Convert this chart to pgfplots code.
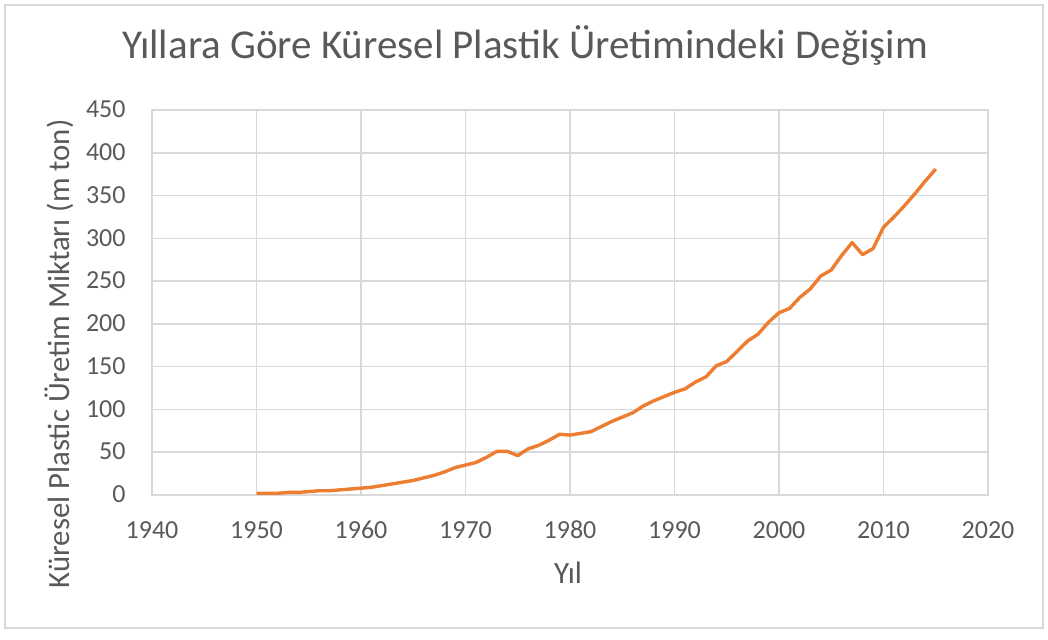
\documentclass[border=0pt]{standalone}
\usepackage{fontspec}
\setmainfont{Carlito}
\usepackage{pgfplots}
\pgfplotsset{compat=1.18}
\definecolor{txt}{HTML}{595959}
\definecolor{grd}{HTML}{D9D9D9}
\definecolor{org}{HTML}{ED7D31}
\begin{document}
\begin{tikzpicture}[x=1pt,y=1pt]
\path[use as bounding box] (0,0) rectangle (524,320);
\draw[grd, line width=0.8pt] (2.5,6) rectangle (521.5,317.5);
\node[txt, anchor=base, font=\fontsize{20.5}{24}\selectfont] at (262.5,290.5) {Yıllara Göre Küresel Plastik Üretimindeki Değişim};
\node[txt, rotate=90, anchor=base, font=\fontsize{15.4}{18}\selectfont] at (35,143) {Küresel Plastic Üretim Miktarı (m ton)};
\node[txt, anchor=base, font=\fontsize{15.5}{18}\selectfont] at (284,28) {Yıl};
\begin{axis}[
  at={(76pt,72.5pt)}, anchor=south west,
  scale only axis, width=418pt, height=192.5pt,
  xmin=1940, xmax=2020, ymin=0, ymax=450,
  xtick={1940,1950,...,2020}, ytick={0,50,...,450},
  grid=major, major grid style={grd, line width=0.75pt},
  axis line style={grd, line width=0.75pt},
  tick style={draw=none},
  /pgf/number format/assume math mode=true,
  /pgf/number format/1000 sep={},
  ticklabel style={txt, font=\fontsize{13}{15}\selectfont, inner sep=0pt},
  xticklabel style={anchor=base, yshift=-22pt},
  yticklabel style={anchor=mid east, xshift=-13pt, yshift=-1.5pt},
  clip=false,
]
\addplot[org, line width=1.7pt, line join=round] coordinates {
(1950,2)(1951,2)(1952,2)(1953,3)(1954,3)(1955,4)(1956,5)(1957,5)(1958,6)(1959,7)
(1960,8)(1961,9)(1962,11)(1963,13)(1964,15)(1965,17)(1966,20)(1967,23)(1968,27)(1969,32)
(1970,35)(1971,38)(1972,44)(1973,51)(1974,51)(1975,46)(1976,54)(1977,58)(1978,64)(1979,71)
(1980,70)(1981,72)(1982,74)(1983,80)(1984,86)(1985,91)(1986,96)(1987,104)(1988,110)(1989,115)
(1990,120)(1991,124)(1992,132)(1993,138)(1994,151)(1995,156)(1996,168)(1997,180)(1998,188)(1999,202)
(2000,213)(2001,218)(2002,231)(2003,241)(2004,256)(2005,263)(2006,280)(2007,295)(2008,281)(2009,288)
(2010,313)(2011,325)(2012,338)(2013,352)(2014,367)(2015,381)
};
\end{axis}
\end{tikzpicture}
\end{document}
